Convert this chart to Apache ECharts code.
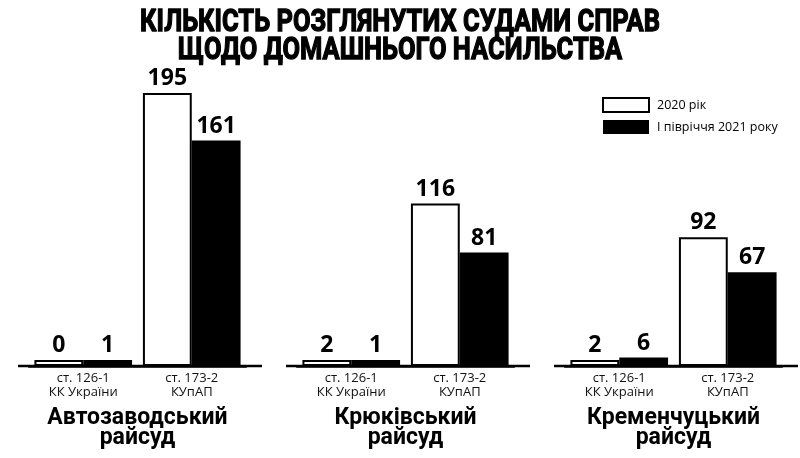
<!DOCTYPE html>
<html><head><meta charset="utf-8">
<script src="https://cdn.jsdelivr.net/npm/echarts@6/dist/echarts.min.js"></script>
<style>html,body{margin:0;padding:0;background:#fff}#c{width:800px;height:458px}</style>
</head><body><div id="c"></div>
<script>
const titleLines = ['КІЛЬКІСТЬ РОЗГЛЯНУТИХ СУДАМИ СПРАВ', 'ЩОДО ДОМАШНЬОГО НАСИЛЬСТВА'];
const categories = ['ст. 126-1\nКК України', 'ст. 173-2\nКУпАП'];
const districts = ['Автозаводський\nрайсуд', 'Крюківський\nрайсуд', 'Кременчуцький\nрайсуд'];
const seriesNames = ['2020 рік', 'І півріччя 2021 року'];
const avtozavodsky2020 = [0, 195];
const avtozavodsky2021 = [1, 161];
const kriukivsky2020 = [2, 116];
const kriukivsky2021 = [1, 81];
const kremenchutsky2020 = [2, 92];
const kremenchutsky2021 = [6, 67];
const values2020 = [avtozavodsky2020, kriukivsky2020, kremenchutsky2020];
const values2021 = [avtozavodsky2021, kriukivsky2021, kremenchutsky2021];

const W = 800, H = 458;
const gridLeft = [29, 297, 565];
const gridWidth = 217;
const gridTop = 86, gridBottom = 92;
const FONT = 'Open Sans';
const TITLE_FONT = 'bold 31px Roboto';

const chart = echarts.init(document.getElementById('c'), null, {renderer: 'canvas'});

// condense the title to the reference's width
const mctx = document.createElement('canvas').getContext('2d');
mctx.font = TITLE_FONT;
const titleScale = 520 / mctx.measureText(titleLines[0]).width;

const grids = [], xAxes = [], yAxes = [], series = [], graphics = [];
titleLines.forEach((t, k) => {
  graphics.push({
    type: 'text', x: W / 2, y: 23 + k * 28.5, scaleX: titleScale, silent: true, z: 100,
    style: {text: t, font: TITLE_FONT, fill: '#000', stroke: '#000', lineWidth: 1.3,
            align: 'center', verticalAlign: 'middle'}
  });
});

for (let i = 0; i < 3; i++) {
  grids.push({left: gridLeft[i], width: gridWidth, top: gridTop, bottom: gridBottom, containLabel: false});
  xAxes.push({
    type: 'category', gridIndex: i, data: categories,
    axisTick: {show: false},
    axisLine: {lineStyle: {color: '#000', width: 2.5}},
    axisLabel: {interval: 0, fontSize: 13, color: '#111', fontFamily: FONT, lineHeight: 13.5, margin: 6},
    name: districts[i], nameLocation: 'middle', nameGap: 42,
    nameTextStyle: {fontSize: 23, fontWeight: 'bold', fontFamily: 'Roboto', lineHeight: 20, color: '#000'}
  });
  yAxes.push({type: 'value', gridIndex: i, min: 0, max: 200, show: false});
  const label = {show: true, position: 'top', distance: 3, fontSize: 23, fontWeight: 'bold', color: '#000', fontFamily: FONT};
  series.push({
    type: 'bar', name: seriesNames[0], xAxisIndex: i, yAxisIndex: i, data: values2020[i],
    barGap: '0%', barCategoryGap: '10%', barMinHeight: 6,
    itemStyle: {color: '#fff', borderColor: '#000', borderWidth: 2},
    label: label
  });
  series.push({
    type: 'bar', name: seriesNames[1], xAxisIndex: i, yAxisIndex: i, data: values2021[i],
    barGap: '0%', barCategoryGap: '10%', barMinHeight: 6,
    itemStyle: {color: '#000'},
    label: label
  });
  const y = H - gridBottom;
  graphics.push({
    type: 'line', z: 100, silent: true,
    shape: {x1: gridLeft[i] - 11, y1: y, x2: gridLeft[i] + gridWidth + 16, y2: y},
    style: {stroke: '#000', lineWidth: 2.5}
  });
}

chart.setOption({
  animation: false,
  backgroundColor: '#fff',
  legend: {
    data: seriesNames, orient: 'vertical', left: 597, top: 92,
    itemWidth: 46, itemHeight: 14, itemGap: 7, icon: 'rect', selectedMode: false,
    textStyle: {fontSize: 12.5, fontFamily: FONT, color: '#000', padding: [0, 0, 0, 3]}
  },
  grid: grids, xAxis: xAxes, yAxis: yAxes, series: series,
  graphic: graphics
});
</script></body></html>
